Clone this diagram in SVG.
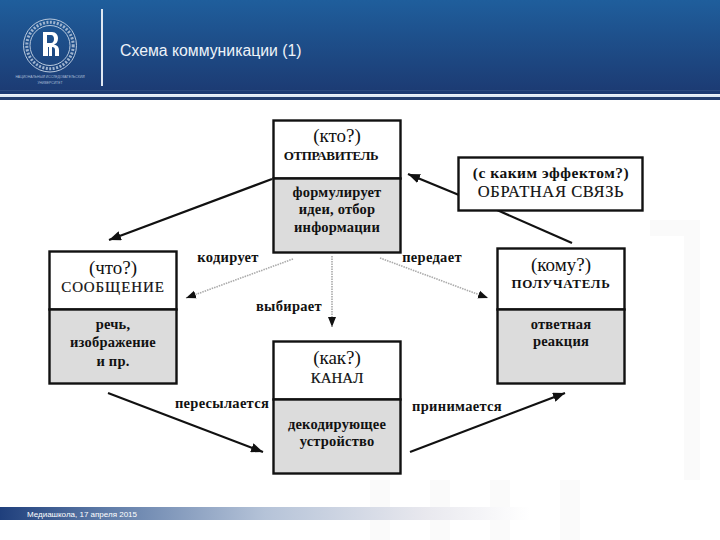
<svg xmlns="http://www.w3.org/2000/svg" width="720" height="540" viewBox="0 0 720 540">
<style>
.box{fill:#fff;stroke:#111;stroke-width:2.4}
.low{fill:#dcdcdc;stroke:#111;stroke-width:2.4}
text{font-family:"Liberation Serif","Times New Roman",serif;fill:#111;text-anchor:middle}
.q{font-size:19px}
.cap{font-size:15px;letter-spacing:.9px;stroke:#111;stroke-width:.2}
.b{font-size:14.5px;font-weight:bold;letter-spacing:.2px}
.lab{font-size:14.5px;font-weight:bold;letter-spacing:.3px}
.arr{fill:none;stroke:#111;stroke-width:2.2;marker-end:url(#ah)}
.dot{fill:none;stroke:#aaa;stroke-width:1.6;stroke-dasharray:1.5 1;marker-end:url(#ad)}
.wm{fill:#fafafa}
</style>
<defs>
<linearGradient id="hd" x1="0" y1="0" x2="0" y2="1"><stop offset="0" stop-color="#1f5e9c"/><stop offset="1" stop-color="#1c3a72"/></linearGradient>
<linearGradient id="ft" x1="0" y1="0" x2="1" y2="0"><stop offset="0" stop-color="#1f3f7c"/><stop offset=".2" stop-color="#5f7ca8"/><stop offset=".5" stop-color="#b5c3d8"/><stop offset=".8" stop-color="#e8e8ee"/><stop offset="1" stop-color="#fff"/></linearGradient>
<marker id="ah" viewBox="0 0 10 8" refX="10" refY="4" markerWidth="12" markerHeight="9.6" markerUnits="userSpaceOnUse" orient="auto"><path d="M0 0L10 4L0 8z" fill="#111"/></marker>
<marker id="ad" viewBox="0 0 10 8" refX="10" refY="4" markerWidth="10" markerHeight="9" markerUnits="userSpaceOnUse" orient="auto"><path d="M0 0L10 4L0 8z" fill="#111"/></marker>
</defs>
<rect width="720" height="540" fill="#fff"/>
<g id="watermark">
<path class="wm" d="M370 480h20v60h-20zM430 480h20v60h-20zM490 480h20v60h-20zM560 480h20v60h-20zM650 220h50v260h-16v-244h-34z"/>
</g>
<g id="header">
<rect width="720" height="94" fill="url(#hd)"/>
<rect y="90" width="720" height="1" fill="#2b4a80"/>
<rect y="94.500" width="720" height="2.500" fill="#dfeaf5"/>
<rect y="97" width="720" height="3" fill="#243f70"/>
<rect x="101" y="9" width="2" height="77" fill="#dfe8f2"/>
<circle cx="50" cy="45.500" r="26.500" fill="none" stroke="#b9c9dd" stroke-width="1"/>
<circle cx="50" cy="45.500" r="20" fill="none" stroke="#b9c9dd" stroke-width="1"/>
<circle cx="50" cy="45.500" r="23.200" fill="none" stroke="#9fb4cf" stroke-width="3" stroke-dasharray="2 1.500"/>
<path d="M43 32h9c4 0 6 3 6 6.500s-2 5.500-4 6c3 .5 5 2.500 5 5.500v6h-4v-6c0-2-1-3-3-3v9h-3v-9h-1v9h-5zM47 35v8h4c2 0 3-2 3-4s-1-4-3-4z" fill="#fff" fill-rule="evenodd"/>
<text x="50" y="78" style="font-family:'Liberation Sans',sans-serif;font-size:3.400px;fill:#a9bcd6">НАЦИОНАЛЬНЫЙ ИССЛЕДОВАТЕЛЬСКИЙ</text>
<text x="50" y="84" style="font-family:'Liberation Sans',sans-serif;font-size:3.400px;fill:#a9bcd6">УНИВЕРСИТЕТ</text>
<text x="120" y="56" style="font-family:'Liberation Sans',Arial,sans-serif;font-size:15.800px;fill:#eef3f9;text-anchor:start">Схема коммуникации (1)</text>
</g>
<g id="connectors">
<path class="arr" d="M272 179L109 240"/>
<path class="arr" d="M459 195L408 174"/>
<path fill="none" stroke="#111" stroke-width="2.2" d="M497 210L572 243"/>
<path class="dot" d="M293 259L186 298"/>
<path class="dot" d="M380 258L488 298"/>
<path class="dot" d="M332 256V327"/>
<path class="arr" d="M108 393L263 452"/>
<path class="arr" d="M410 452L565 393"/>
</g>
<g id="sender">
<rect class="box" x="273.500" y="120.500" width="127" height="58"/>
<rect class="low" x="273.500" y="178.500" width="127" height="74"/>
<text class="q" x="337" y="142">(кто?)</text>
<text x="331" y="160" style="font-size:13px;font-weight:bold;letter-spacing:-.4px">ОТПРАВИТЕЛЬ</text>
<text class="b" x="337" y="197">формулирует</text>
<text class="b" x="337" y="214">идеи, отбор</text>
<text class="b" x="337" y="232">информации</text>
</g>
<g id="feedback">
<rect class="box" x="458.500" y="157.500" width="184" height="53"/>
<text x="551" y="178" style="font-size:15.500px;font-weight:bold;letter-spacing:.5px">(с каким эффектом?)</text>
<text x="551" y="197" style="font-size:16.500px;letter-spacing:.6px;stroke:#111;stroke-width:.15">ОБРАТНАЯ СВЯЗЬ</text>
</g>
<g id="message">
<rect class="box" x="49.500" y="251.500" width="127" height="58"/>
<rect class="low" x="49.500" y="309.500" width="127" height="74"/>
<text class="q" x="113" y="274">(что?)</text>
<text class="cap" x="113" y="292">СООБЩЕНИЕ</text>
<text class="b" x="113" y="329">речь,</text>
<text class="b" x="113" y="347">изображение</text>
<text class="b" x="113" y="366">и пр.</text>
</g>
<g id="receiver">
<rect class="box" x="497.500" y="248.500" width="127" height="61"/>
<rect class="low" x="497.500" y="309.500" width="127" height="74"/>
<text class="q" x="561" y="271">(кому?)</text>
<text x="561" y="288" style="font-size:13px;font-weight:bold;letter-spacing:.7px">ПОЛУЧАТЕЛЬ</text>
<text class="b" x="561" y="329">ответная</text>
<text class="b" x="561" y="346">реакция</text>
</g>
<g id="channel">
<rect class="box" x="273.500" y="341.500" width="127" height="58"/>
<rect class="low" x="273.500" y="399.500" width="127" height="74"/>
<text class="q" x="337" y="364">(как?)</text>
<text x="337" y="383" style="font-size:15px;stroke:#111;stroke-width:.2">КАНАЛ</text>
<text class="b" x="337" y="429">декодирующее</text>
<text class="b" x="337" y="446">устройство</text>
</g>
<g id="labels">
<text class="lab" x="228" y="262">кодирует</text>
<text class="lab" x="432" y="262">передает</text>
<text class="lab" x="289" y="311">выбирает</text>
<text class="lab" x="222" y="408">пересылается</text>
<text class="lab" x="457" y="411">принимается</text>
</g>
<g id="footer">
<rect x="0" y="507" width="530" height="13" fill="url(#ft)"/>
<text x="27" y="517" style="font-family:'Liberation Sans',Arial,sans-serif;font-size:8px;fill:#fff;text-anchor:start">Медиашкола, 17 апреля 2015</text>
</g>
</svg>
